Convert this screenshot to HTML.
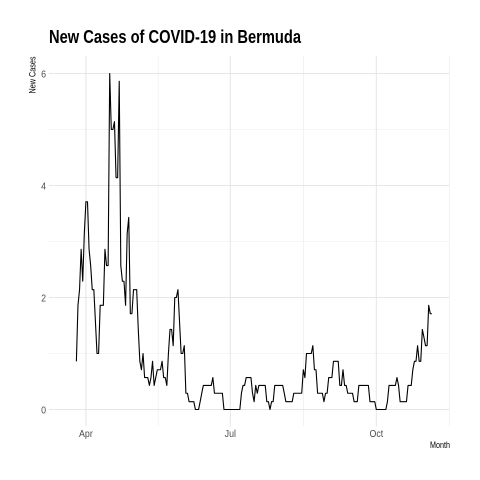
<!DOCTYPE html>
<html lang="en">
<head>
<meta charset="utf-8">
<title>New Cases of COVID-19 in Bermuda</title>
<style>
html,body{margin:0;padding:0;background:#fff;}
svg{display:block;}
text{font-family:"Liberation Sans Narrow","Liberation Sans",sans-serif;}
</style>
</head>
<body>
<svg id="chart" xmlns="http://www.w3.org/2000/svg" width="480" height="480" viewBox="0 0 480 480">
  <rect x="0" y="0" width="480" height="480" fill="#ffffff"/>
  <g id="grid"></g>
  <g id="series"></g>
  <g id="ticks"></g>
  <text x="49" y="43" font-size="18" font-weight="700" fill="#000000" textLength="252" lengthAdjust="spacingAndGlyphs">New Cases of COVID-19 in Bermuda</text>
  <text transform="translate(35.5,93.5) rotate(-90)" font-size="8.8" fill="#000000" textLength="37" lengthAdjust="spacingAndGlyphs">New Cases</text>
  <text x="430" y="448" font-size="8.8" fill="#000000" textLength="20" lengthAdjust="spacingAndGlyphs">Month</text>
</svg>
<script>
// Days are counted from 1 April 2020; the first reading is 6 days earlier.
const firstDay = -6;
const newCases = [
  0.86,1.86,2.14,2.86,2.29,3.14,3.71,3.71,2.86,2.57,2.14,2.14,1.57,1,1,1.86,1.86,1.86,2.86,2.57,
  2.57,6,5,5,5.14,4.14,4.14,5.86,2.57,2.29,2.29,1.86,3.14,3.43,1.71,1.71,2.14,2.14,2.14,1.43,
  0.86,0.71,1,0.57,0.57,0.57,0.43,0.57,0.86,0.43,0.57,0.71,0.71,0.71,0.86,0.57,0.57,0.43,1,1.43,
  1.43,1.14,2,2,2.14,1.57,1,1,1.14,0.29,0.29,0.14,0.14,0.14,0.14,0,0,0,0.14,0.29,
  0.43,0.43,0.43,0.43,0.43,0.43,0.57,0.29,0.29,0.29,0.29,0.29,0.29,0,0,0,0,0,0,0,
  0,0,0,0,0.29,0.43,0.43,0.57,0.57,0.57,0.57,0.29,0.14,0.43,0.29,0.43,0.43,0.43,0.43,0.43,
  0.14,0.14,0,0.14,0.14,0.43,0.43,0.43,0.43,0.43,0.43,0.29,0.14,0.14,0.14,0.14,0.14,0.29,0.29,0.29,
  0.29,0.29,0.29,0.71,0.57,1,1,1,1,1.14,0.71,0.71,0.29,0.29,0.29,0.29,0.14,0.29,0.29,0.57,
  0.57,0.57,0.86,0.86,0.86,0.86,0.43,0.43,0.71,0.43,0.43,0.29,0.29,0.29,0.29,0.14,0.14,0.14,0.43,0.43,
  0.43,0.43,0.43,0.43,0.43,0.14,0.14,0.14,0.14,0,0,0,0,0,0,0,0.14,0.43,0.43,0.43,
  0.43,0.43,0.57,0.43,0.14,0.14,0.14,0.14,0.14,0.43,0.43,0.43,0.71,0.86,0.86,1.14,0.86,0.86,1.43,1.29,
  1.14,1.14,1.86,1.71,1.71
];
const yMajorTicks = [0, 2, 4, 6];
const yMinorTicks = [1, 3, 5];
const xMajorDays = [0, 91, 183];
const xMinorDays = [45.5, 137, 229];
const xTickLabels = ["Apr", "Jul", "Oct"];
const yTickLabels = ["0", "2", "4", "6"];

const PANEL = {left: 49, right: 449.5, top: 56, bottom: 426.5};
const NARROW = 0.84;
function xScale(day) { return 85.9 + 1.587 * day; }
function yScale(value) { return 409.5 - 56 * value; }

const NS = "http://www.w3.org/2000/svg";
const grid = document.getElementById("grid");
const series = document.getElementById("series");
const ticks = document.getElementById("ticks");

function gridLine(x1, y1, x2, y2, width, color) {
  const l = document.createElementNS(NS, "line");
  l.setAttribute("x1", x1);
  l.setAttribute("y1", y1);
  l.setAttribute("x2", x2);
  l.setAttribute("y2", y2);
  l.setAttribute("stroke", color);
  l.setAttribute("stroke-width", width);
  grid.appendChild(l);
  return l;
}

function narrowText(t) {
  t.setAttribute("textLength", (t.getComputedTextLength() * NARROW).toFixed(2));
  t.setAttribute("lengthAdjust", "spacingAndGlyphs");
}

yMinorTicks.forEach(function (v) {
  const l = gridLine(PANEL.left, yScale(v), PANEL.right, yScale(v), 0.6, "#ebebeb");
  
  
});
xMinorDays.forEach(function (d) {
  const l = gridLine(xScale(d), PANEL.top, xScale(d), PANEL.bottom, 0.6, "#ebebeb");
  
  
});
yMajorTicks.forEach(function (v) {
  const l = gridLine(PANEL.left, yScale(v), PANEL.right, yScale(v), 1.07, "#e6e6e6");
  
  
});
xMajorDays.forEach(function (d) {
  const l = gridLine(xScale(d), PANEL.top, xScale(d), PANEL.bottom, 1.07, "#e6e6e6");
  
  
});

const line = document.createElementNS(NS, "path");


line.setAttribute("d", newCases.map(function (v, i) {
  return (i ? "L" : "M") + xScale(firstDay + i).toFixed(2) + " " + yScale(v).toFixed(2);
}).join(""));
line.setAttribute("fill", "none");
line.setAttribute("stroke", "#000000");
line.setAttribute("stroke-width", "1.1");
line.setAttribute("stroke-linejoin", "round");
series.appendChild(line);

xTickLabels.forEach(function (label, i) {
  const t = document.createElementNS(NS, "text");
  
  
  t.setAttribute("x", xScale(xMajorDays[i]));
  t.setAttribute("y", 437);
  t.setAttribute("text-anchor", "middle");
  t.setAttribute("font-size", "10.5");
  t.setAttribute("fill", "#4d4d4d");
  t.textContent = label;
  ticks.appendChild(t);
  narrowText(t);
});
yTickLabels.forEach(function (label, i) {
  const t = document.createElementNS(NS, "text");
  
  
  t.setAttribute("x", 46);
  t.setAttribute("y", yScale(yMajorTicks[i]) + 3.8);
  t.setAttribute("text-anchor", "end");
  t.setAttribute("font-size", "10.5");
  t.setAttribute("fill", "#4d4d4d");
  t.textContent = label;
  ticks.appendChild(t);
  narrowText(t);
});
</script>
</body>
</html>
